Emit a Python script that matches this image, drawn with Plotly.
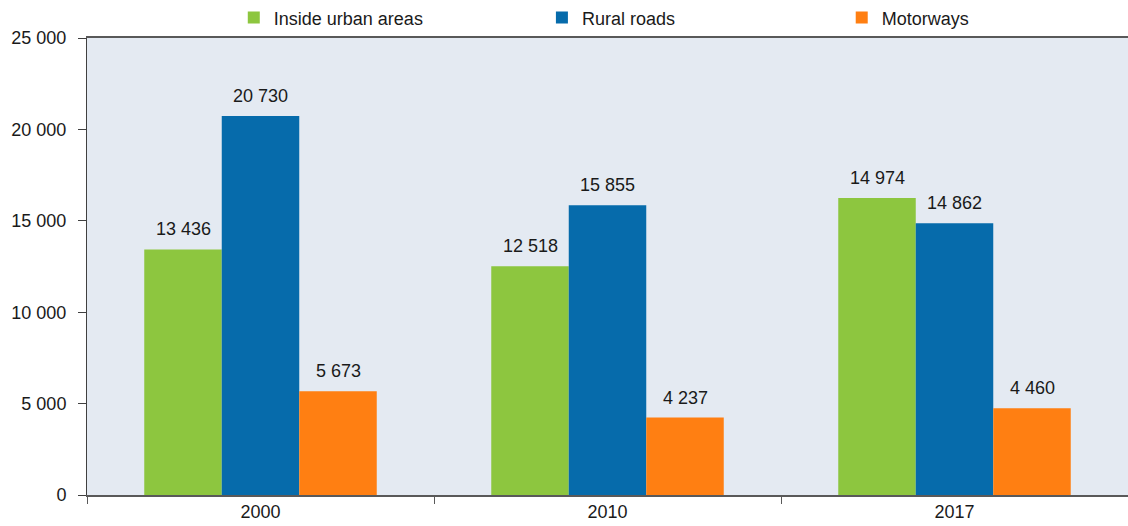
import plotly.graph_objects as go

years = ["2000", "2010", "2017"]
series_names = ["Inside urban areas", "Rural roads", "Motorways"]
# bar heights as drawn in the picture
urban = [13436, 12518, 16250]
rural = [20730, 15855, 14862]
motorways = [5673, 4237, 4740]
# printed value labels
urban_labels = ["13 436", "12 518", "14 974"]
rural_labels = ["20 730", "15 855", "14 862"]
motorway_labels = ["5 673", "4 237", "4 460"]

colors = ["#8DC63F", "#066BAB", "#FF7F12"]
FONT = "Liberation Sans, Arial, sans-serif"
FS = 18
BARGAP = 0.33
legend_ids = ["legend", "legend2", "legend3"]
legend_x = [0.141, 0.437, 0.725]

fig = go.Figure()
all_vals = [urban, rural, motorways]
all_labels = [urban_labels, rural_labels, motorway_labels]
for name, vals, col, lg in zip(series_names, all_vals, colors, legend_ids):
    fig.add_trace(go.Bar(x=years, y=vals, name=name, legend=lg,
                         marker=dict(color=col, line=dict(width=0))))

bw = (1 - BARGAP) / 3
annotations = []
for k, (vals, labs) in enumerate(zip(all_vals, all_labels)):
    for i, (v, t) in enumerate(zip(vals, labs)):
        annotations.append(dict(x=i + (k - 1) * bw, y=v, xref="x", yref="y", text=t,
                                showarrow=False, yanchor="bottom", yshift=8,
                                font=dict(family=FONT, size=FS, color="#1a1a1a")))

legend_style = dict(orientation="h", xanchor="left", y=1.044, yanchor="middle",
                    font=dict(family=FONT, size=FS, color="#1a1a1a"),
                    bgcolor="rgba(0,0,0,0)", itemclick=False)

fig.update_layout(
    width=1128, height=526,
    margin=dict(l=87, r=0, t=38, b=31, autoexpand=False),
    paper_bgcolor="white", plot_bgcolor="#E4EAF2",
    barmode="group", bargap=BARGAP, bargroupgap=0,
    separators=". ",
    font=dict(family=FONT, size=FS, color="#1a1a1a"),
    showlegend=True,
    legend=dict(x=legend_x[0], **legend_style),
    legend2=dict(x=legend_x[1], **legend_style),
    legend3=dict(x=legend_x[2], **legend_style),
    annotations=annotations,
)
fig.update_xaxes(type="category", showline=True, linecolor="#595959", linewidth=1.5, mirror=True,
                 ticks="outside", tickson="boundaries", ticklen=7, tickcolor="#595959",
                 showgrid=False, zeroline=False,
                 tickfont=dict(family=FONT, size=FS, color="#1a1a1a"))
fig.update_yaxes(range=[0, 25000], dtick=5000, tickformat=",", showline=True, linecolor="#404040",
                 linewidth=1, ticks="outside", ticklen=8, tickcolor="#404040",
                 ticklabelstandoff=8,
                 showgrid=False, zeroline=False,
                 tickfont=dict(family=FONT, size=FS, color="#1a1a1a"))

fig.write_html("out.html")
